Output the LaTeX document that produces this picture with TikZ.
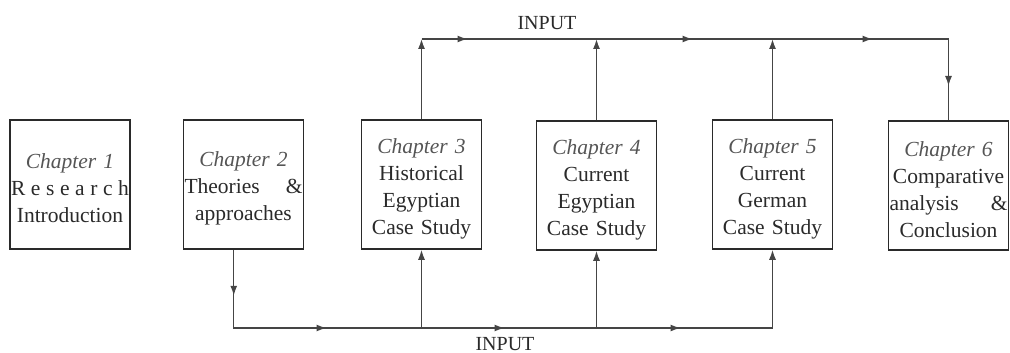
\documentclass[tikz,border=0pt]{standalone}
\usepackage{fontspec}
\setmainfont{Liberation Serif}
\usetikzlibrary{arrows.meta,decorations.markings}

\definecolor{ink}{HTML}{2A2A2A}
\definecolor{chap}{HTML}{555555}
\definecolor{wire}{HTML}{454545}

\tikzset{
  chapbox/.style={draw=ink, line width=1.5pt, minimum width=120, minimum height=129,
    text width=118, inner xsep=1, inner ysep=0, align=center, text=ink,
    font=\fontsize{21.5}{27}\selectfont},
  conn/.style={draw=wire, line width=1.4pt},
  tip/.tip={Latex[length=10pt,width=7pt]},
  label/.style={text=ink, font=\fontsize{20}{22}\selectfont, inner sep=0}
}
% italic heading line; the strut lowers the text block a little in its box
\newcommand{\chap}[1]{\rule{0pt}{23pt}{\itshape\color{chap}Chapter #1}}
% a line stretched to the full width of the box (pieces separated by \hfil)
\newcommand{\spread}[1]{\makebox[118pt][s]{#1}}

\begin{document}
\begin{tikzpicture}[x=1pt, y=-1pt]
  \useasboundingbox (0,0) rectangle (1010,353);

  % chapter boxes
  \node[chapbox] (b1) at (70,184.5)    {\chap{1}\\ \spread{R\hfil e\hfil s\hfil e\hfil a\hfil r\hfil c\hfil h}\\ Introduction};
  \node[chapbox] (b2) at (243.5,184.5) {\chap{2}\\ \spread{Theories\hfil\&}\\ approaches};
  \node[chapbox] (b3) at (421.5,184.5) {\chap{3}\\ Historical\\ Egyptian\\ Case Study};
  \node[chapbox] (b4) at (596.5,185.5) {\chap{4}\\ Current\\ Egyptian\\ Case Study};
  \node[chapbox] (b5) at (772.5,184.5) {\chap{5}\\ Current\\ German\\ Case Study};
  \node[chapbox] (b6) at (948.5,185.5) {\chap{6}\\ Comparative\\ \spread{analysis\hfil\&}\\ Conclusion};

  % levels of the two input buses
  \coordinate (topy) at (0,39);
  \coordinate (boty) at (0,328);
  \coordinate (d2) at ([xshift=51pt]b2.south west);

  \node[label] (intop) at (547,23) {INPUT};
  \node[label] (inbot) at (505,344) {INPUT};

  % upper bus: chapters 3-5 feed forward into chapter 6
  \draw[conn, -tip] (b3.north) -- (b3.north |- topy);
  \draw[conn, -tip] (b4.north) -- (b4.north |- topy);
  \draw[conn, -tip] (b5.north) -- (b5.north |- topy);
  \draw[conn, postaction={decorate}, decoration={markings,
      mark=at position 46pt with {\arrow{tip}},
      mark=at position 271pt with {\arrow{tip}},
      mark=at position 451pt with {\arrow{tip}},
      mark=at position 574pt with {\arrow{tip}}}]
    (b3.north |- topy) -- (b6.north |- topy) -- (b6.north);

  % lower bus: chapter 2 feeds chapters 3-5
  \draw[conn, -tip, postaction={decorate}, decoration={markings,
      mark=at position 46pt with {\arrow{tip}},
      mark=at position 171pt with {\arrow{tip}},
      mark=at position 349pt with {\arrow{tip}},
      mark=at position 525pt with {\arrow{tip}}}]
    (d2) -- (d2 |- boty) -- (b5.south |- boty) -- (b5.south);
  \draw[conn, -tip] (b3.south |- boty) -- (b3.south);
  \draw[conn, -tip] (b4.south |- boty) -- (b4.south);
\end{tikzpicture}
\end{document}
